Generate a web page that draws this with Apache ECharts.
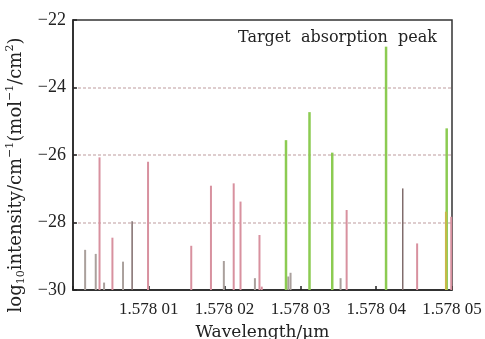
<!DOCTYPE html>
<html>
<head>
<meta charset="utf-8">
<script src="https://cdn.jsdelivr.net/npm/echarts@6/dist/echarts.min.js"></script>
<style>
    html, body { margin: 0; padding: 0; background: #fff; }
    #chart { width: 485px; height: 339px; }
</style>
</head>
<body>
<div id="chart"></div>
<script>
// wavelength (um) and log10 intensity of each line, grouped by colour
var pinkWl  = [1.5780035, 1.5780052, 1.5780099, 1.5780156, 1.5780182, 1.5780212, 1.5780221, 1.5780246, 1.5780249, 1.5780361, 1.5780454, 1.5780499];
var pinkVal = [-26.07, -28.45, -26.2, -28.69, -26.91, -26.84, -27.38, -28.37, -29.9, -27.63, -28.62, -27.83];
var greenWl  = [1.5780281, 1.5780312, 1.5780342, 1.5780413, 1.5780493];
var greenVal = [-25.56, -24.73, -25.93, -22.79, -25.21];
var grayWl  = [1.5780016, 1.578003, 1.5780041, 1.5780066, 1.5780199, 1.578024, 1.5780284, 1.5780287, 1.5780353];
var grayVal = [-28.81, -28.93, -29.78, -29.16, -29.14, -29.65, -29.6, -29.49, -29.65];
var darkWl  = [1.5780078, 1.5780435];
var darkVal = [-27.96, -26.99];
var oliveWl  = [1.5780492];
var oliveVal = [-27.68];

var xTickLabels = ['', '1.578 01', '1.578 02', '1.578 03', '1.578 04', '1.578 05'];
var yTicks = [-30, -28, -26, -24, -22];
var titleText = 'Target  absorption  peak';

var chart = echarts.init(document.getElementById('chart'));
var serif = 'Liberation Serif';
var wide = 'DejaVu Serif';

function zip(a, b) {
    return a.map(function (v, i) { return [v, b[i]]; });
}

function stick(color, width, wl, val, z) {
    return {
        type: 'custom',
        z: z,
        data: zip(wl, val),
        renderItem: function (params, api) {
            var top = api.coord([api.value(0), api.value(1)]);
            var base = api.coord([api.value(0), yTicks[0]]);
            return {
                type: 'line',
                shape: { x1: top[0], y1: top[1], x2: base[0], y2: base[1] },
                style: { stroke: color, lineWidth: width }
            };
        }
    };
}

chart.setOption({
    animation: false,
    title: {
        text: titleText,
        right: 43,
        top: 25,
        textStyle: { fontFamily: wide, fontSize: 16, fontWeight: 'normal', color: '#222' }
    },
    grid: {
        left: 73, right: 33, top: 20, bottom: 49,
        outerBoundsMode: 'none',
        show: true, borderColor: '#333', borderWidth: 1.5, backgroundColor: '#fff'
    },
    xAxis: {
        type: 'value',
        min: 1.578,
        max: 1.57805,
        interval: 0.00001,
        name: 'Wavelength/µm',
        nameLocation: 'middle',
        nameGap: 34,
        nameTextStyle: { fontFamily: wide, fontSize: 17, color: '#222' },
        axisLine: { lineStyle: { color: '#222', width: 1.5 } },
        axisTick: { inside: true, length: 4, lineStyle: { color: '#222', width: 1.5 } },
        axisLabel: {
            fontFamily: serif, fontSize: 17, color: '#222', margin: 11,
            formatter: function (v) {
                return xTickLabels[Math.round((v - 1.578) * 1e5)] || '';
            }
        },
        splitLine: { show: false }
    },
    yAxis: {
        type: 'value',
        min: yTicks[0],
        max: yTicks[yTicks.length - 1],
        interval: 2,
        name: '{a|log}{s|10}{a|intensity/cm}{u|−1}{a|(mol}{u|−1}{a|/cm}{u|2}{a|)}',
        nameLocation: 'middle',
        nameGap: 40,
        nameTextStyle: {
            color: '#222',
            padding: [0, 40, 0, 0],
            rich: {
                a: { fontFamily: wide, fontSize: 18, color: '#222', lineHeight: 22 },
                s: { fontFamily: wide, fontSize: 11, color: '#222', lineHeight: 10, verticalAlign: 'bottom' },
                u: { fontFamily: wide, fontSize: 11, color: '#222', lineHeight: 10, verticalAlign: 'top' }
            }
        },
        axisLine: { lineStyle: { color: '#222', width: 1.5 } },
        axisTick: { inside: true, length: 4, lineStyle: { color: '#222', width: 1.5 } },
        axisLabel: {
            fontFamily: serif, fontSize: 18, color: '#222', margin: 7,
            formatter: function (v) { return String(v).replace('-', '−'); }
        },
        splitLine: {
            show: true,
            showMinLine: false,
            showMaxLine: false,
            lineStyle: { color: 'rgba(195,165,168,0.75)', width: 1.5, type: [3, 2] }
        }
    },
    series: [
        stick('#aaa09c', 2, grayWl, grayVal, 2),
        stick('#806c6c', 1.5, darkWl, darkVal, 2),
        stick('#d8919f', 2, pinkWl, pinkVal, 3),
        stick('#8ccb52', 2.5, greenWl, greenVal, 4),
        stick('#c8b84a', 2, oliveWl, oliveVal, 5)
    ]
});
</script>
</body>
</html>
